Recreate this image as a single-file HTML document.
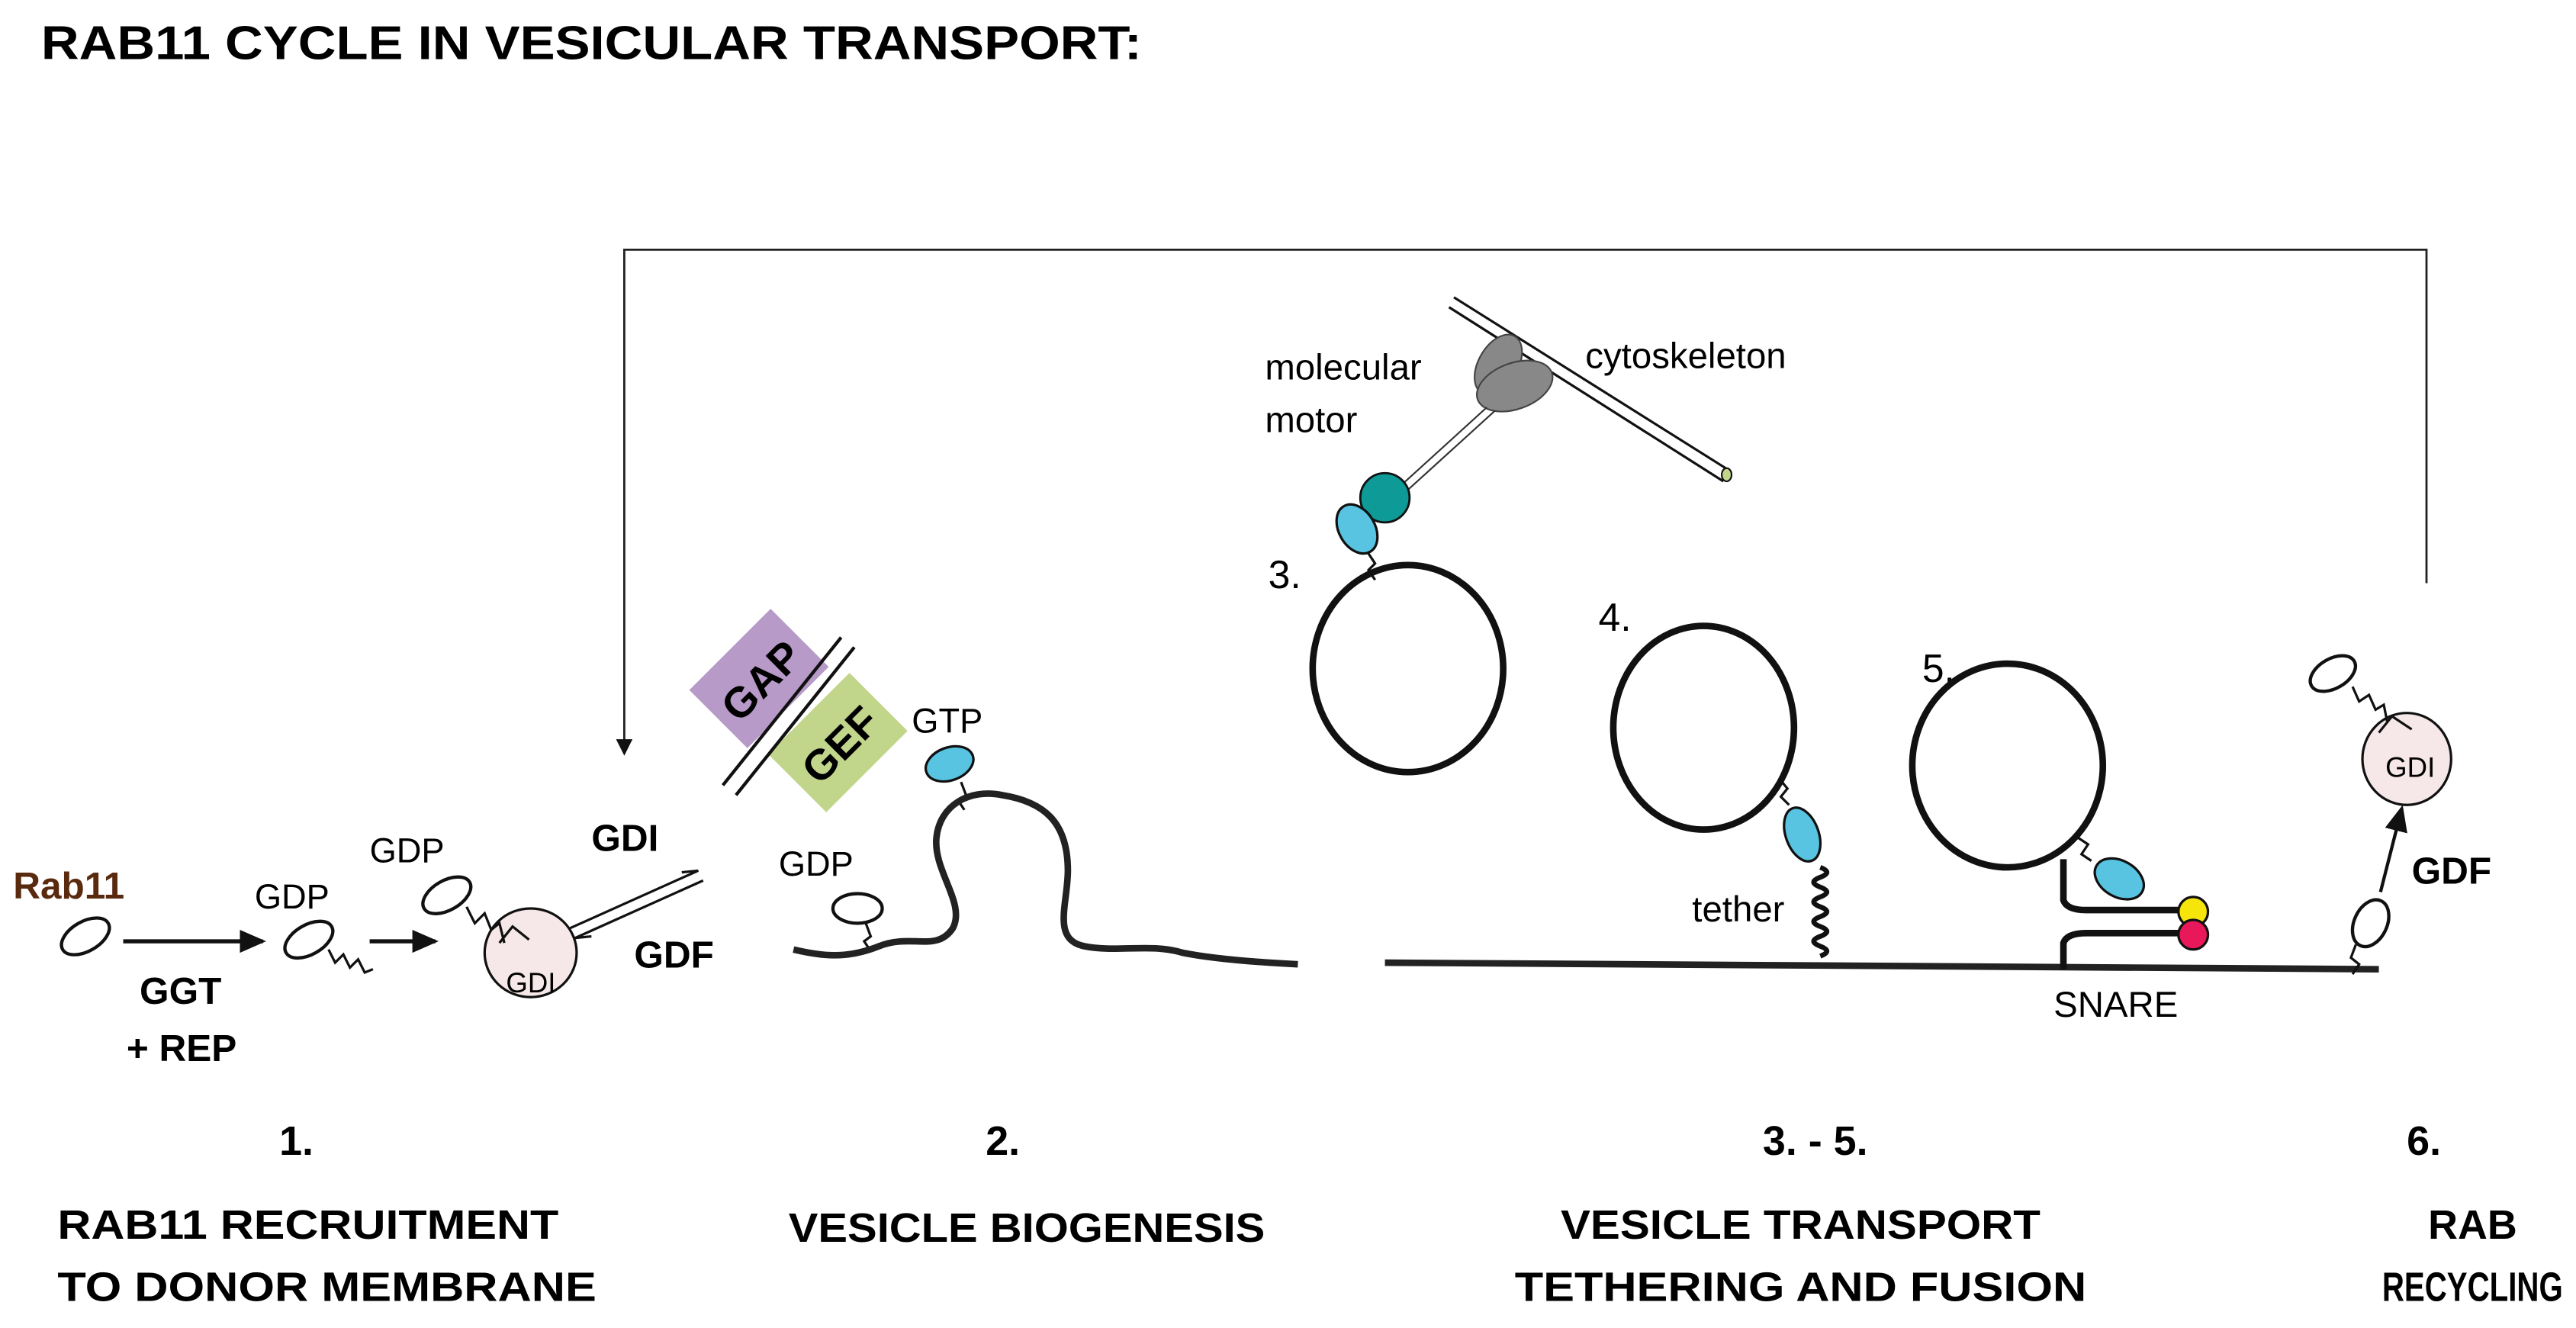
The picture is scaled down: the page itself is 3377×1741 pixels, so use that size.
<!DOCTYPE html>
<html><head><meta charset="utf-8"><style>html,body{margin:0;padding:0;background:#fff}svg{display:block}</style></head>
<body>
<svg width="3377" height="1741" viewBox="0 0 1568 808.4" preserveAspectRatio="none" xmlns="http://www.w3.org/2000/svg" font-family="Liberation Sans, sans-serif">
<defs>
<marker id="ah" markerWidth="10" markerHeight="10" refX="8" refY="5" orient="auto" markerUnits="userSpaceOnUse"><path d="M0,0 L10,5 L0,10 Z" fill="#111"/></marker>
<marker id="ah2" markerWidth="16" markerHeight="16" refX="14" refY="8" orient="auto" markerUnits="userSpaceOnUse"><path d="M0,1 L16,8 L0,15 Z" fill="#111"/></marker>
</defs>
<text x="25" y="36" font-size="29" font-weight="bold" textLength="670" lengthAdjust="spacingAndGlyphs">RAB11 CYCLE IN VESICULAR TRANSPORT:</text>
<!-- recycling bracket -->
<polyline points="1477,355 1477,152 380,152 380,458" fill="none" stroke="#222" stroke-width="1.3" marker-end="url(#ah)"/>
<!-- step 1 -->
<text x="8" y="547" font-size="23" font-weight="bold" fill="#5a2a0e">Rab11</text>
<ellipse cx="52" cy="570" rx="16" ry="9" transform="rotate(-30 52 570)" fill="#fff" stroke="#111" stroke-width="2"/>
<line x1="75" y1="573" x2="160" y2="573" stroke="#111" stroke-width="2.5" marker-end="url(#ah2)"/>
<text x="85" y="611" font-size="23" font-weight="bold">GGT</text>
<text x="77" y="646" font-size="23" font-weight="bold">+ REP</text>
<text x="155" y="553" font-size="21">GDP</text>
<ellipse cx="188" cy="572" rx="16" ry="9" transform="rotate(-30 188 572)" fill="#fff" stroke="#111" stroke-width="2"/>
<path d="M200,578 l4,8 l5,-5 l4,8 l5,-5 l4,8 l5,-2" fill="none" stroke="#111" stroke-width="1.5"/>
<line x1="225" y1="573" x2="265" y2="573" stroke="#111" stroke-width="2.5" marker-end="url(#ah2)"/>
<text x="225" y="525" font-size="21">GDP</text>
<ellipse cx="272" cy="545" rx="16" ry="9" transform="rotate(-30 272 545)" fill="#fff" stroke="#111" stroke-width="2"/>
<ellipse cx="323" cy="580" rx="28" ry="27" fill="#f6e8e8" stroke="#111" stroke-width="1.5"/>
<path d="M284,552 l5,10 l6,-6 l4,10 l5,-4 l3,12 M304,574 l8,-10 l10,8" fill="none" stroke="#111" stroke-width="1.5"/>
<text x="308" y="604" font-size="17">GDI</text>
<text x="360" y="518" font-size="23" font-weight="bold">GDI</text>
<path d="M347,565 L425,530 L415,531 M428,536 L350,571 L360,570" fill="none" stroke="#111" stroke-width="1.5"/>
<text x="386" y="589" font-size="23" font-weight="bold">GDF</text>
<!-- step 2 -->
<g transform="rotate(-45 462 413)"><rect x="427" y="388" width="70" height="50" fill="#b89ac9"/><text x="462" y="424" font-size="26" font-weight="bold" text-anchor="middle">GAP</text></g>
<g transform="rotate(-45 510 452)"><rect x="475" y="427" width="70" height="50" fill="#c2d68b"/><text x="510" y="463" font-size="26" font-weight="bold" text-anchor="middle">GEF</text></g>
<line x1="440" y1="478" x2="512" y2="388" stroke="#111" stroke-width="2"/>
<line x1="448" y1="484" x2="520" y2="394" stroke="#111" stroke-width="2"/>
<text x="555" y="446" font-size="21">GTP</text>
<ellipse cx="578" cy="465" rx="15" ry="10" transform="rotate(-20 578 465)" fill="#58c4e2" stroke="#111" stroke-width="1.5"/>
<path d="M585,476 l3,8 l-5,3 l4,6" fill="none" stroke="#111" stroke-width="1.5"/>
<text x="474" y="533" font-size="21">GDP</text>
<ellipse cx="522" cy="553" rx="15" ry="9" fill="#fff" stroke="#111" stroke-width="2"/>
<path d="M527,562 l3,8 l-4,3 l4,6" fill="none" stroke="#111" stroke-width="1.5"/>
<path d="M483,578 C500,582 515,584 535,576 C555,568 570,580 580,565 C588,550 568,530 570,510 C572,490 590,480 610,484 C635,488 650,500 650,530 C650,550 640,572 660,576 C680,580 700,574 720,580 C740,584 770,586 790,587" fill="none" stroke="#222" stroke-width="4"/>
<line x1="843" y1="586" x2="1448" y2="590" stroke="#222" stroke-width="4"/>
<!-- step 3 -->
<line x1="885" y1="181" x2="1052" y2="286" stroke="#111" stroke-width="1.5"/>
<line x1="882" y1="187" x2="1049" y2="293" stroke="#111" stroke-width="1.5"/>
<ellipse cx="1051" cy="289" rx="3" ry="4" fill="#c2d68b" stroke="#111"/>
<text x="965" y="224" font-size="22">cytoskeleton</text>
<text x="770" y="231" font-size="22">molecular</text>
<text x="770" y="263" font-size="22">motor</text>
<ellipse cx="912" cy="222" rx="12" ry="20" transform="rotate(30 912 222)" fill="#888" stroke="#444"/>
<ellipse cx="922" cy="235" rx="24" ry="14" transform="rotate(-20 922 235)" fill="#888" stroke="#444"/>
<line x1="905" y1="248" x2="850" y2="298" stroke="#333" stroke-width="1"/>
<line x1="910" y1="250" x2="855" y2="300" stroke="#333" stroke-width="1"/>
<circle cx="843" cy="303" r="15" fill="#0e9a96" stroke="#111" stroke-width="1.3"/>
<ellipse cx="826" cy="322" rx="11" ry="16" transform="rotate(-30 826 322)" fill="#58c4e2" stroke="#111" stroke-width="1.5"/>
<path d="M833,337 l4,6 l-4,4 l4,6" fill="none" stroke="#111" stroke-width="1.5"/>
<text x="772" y="358" font-size="24">3.</text>
<ellipse cx="857" cy="407" rx="58" ry="63" fill="none" stroke="#111" stroke-width="4"/>
<!-- step 4 -->
<text x="973" y="384" font-size="24">4.</text>
<ellipse cx="1037" cy="443" rx="55" ry="62" fill="none" stroke="#111" stroke-width="4"/>
<path d="M1083,474 l5,6 l-4,5 l5,5" fill="none" stroke="#111" stroke-width="1.5"/>
<ellipse cx="1097" cy="508" rx="10" ry="17" transform="rotate(-20 1097 508)" fill="#58c4e2" stroke="#111" stroke-width="1.5"/>
<path d="M1108,528 q8,3 0,6 q-8,3 0,6 q8,3 0,6 q-8,3 0,6 q8,3 0,6 q-8,3 0,6 q8,3 0,6 q-8,3 0,6 q8,3 0,6" fill="none" stroke="#111" stroke-width="3"/>
<text x="1030" y="561" font-size="22">tether</text>
<!-- step 5 -->
<text x="1170" y="415" font-size="24">5.</text>
<ellipse cx="1222" cy="466" rx="58" ry="62" fill="none" stroke="#111" stroke-width="4"/>
<path d="M1265,510 l6,4 l-4,6 l6,4" fill="none" stroke="#111" stroke-width="1.5"/>
<ellipse cx="1290" cy="535" rx="16" ry="11" transform="rotate(30 1290 535)" fill="#58c4e2" stroke="#111" stroke-width="1.5"/>
<path d="M1256,523 L1256,548 Q1258,554 1270,554 L1330,554" fill="none" stroke="#111" stroke-width="4"/>
<path d="M1256,590 L1256,574 Q1258,568 1270,568 L1330,568" fill="none" stroke="#111" stroke-width="4"/>
<circle cx="1335" cy="555" r="9" fill="#f5e50a" stroke="#111" stroke-width="1.5"/>
<circle cx="1335" cy="569" r="9" fill="#e8185a" stroke="#111" stroke-width="1.5"/>
<text x="1250" y="619" font-size="22">SNARE</text>
<!-- step 6 -->
<ellipse cx="1465" cy="462" rx="27" ry="28" fill="#f6e8e8" stroke="#111" stroke-width="1.5"/>
<ellipse cx="1420" cy="410" rx="15" ry="9" transform="rotate(-30 1420 410)" fill="#fff" stroke="#111" stroke-width="2"/>
<path d="M1432,418 l4,9 l6,-4 l4,9 l5,-3 l2,10 M1448,446 l8,-10 l12,8" fill="none" stroke="#111" stroke-width="1.5"/>
<text x="1452" y="473" font-size="17">GDI</text>
<line x1="1449" y1="543" x2="1462" y2="492" stroke="#111" stroke-width="2" marker-end="url(#ah2)"/>
<text x="1468" y="538" font-size="23" font-weight="bold">GDF</text>
<ellipse cx="1443" cy="562" rx="10" ry="15" transform="rotate(25 1443 562)" fill="#fff" stroke="#111" stroke-width="2"/>
<path d="M1434,575 l-3,8 l5,4 l-4,6" fill="none" stroke="#111" stroke-width="1.5"/>
<!-- bottom labels -->
<g font-size="25" font-weight="bold">
<text x="170" y="703">1.</text>
<text x="35" y="754" textLength="305" lengthAdjust="spacingAndGlyphs">RAB11 RECRUITMENT</text>
<text x="35" y="792" textLength="328" lengthAdjust="spacingAndGlyphs">TO DONOR MEMBRANE</text>
<text x="600" y="703">2.</text>
<text x="480" y="756" textLength="290" lengthAdjust="spacingAndGlyphs">VESICLE BIOGENESIS</text>
<text x="1073" y="703">3. - 5.</text>
<text x="950" y="754" textLength="292" lengthAdjust="spacingAndGlyphs">VESICLE TRANSPORT</text>
<text x="922" y="792" textLength="348" lengthAdjust="spacingAndGlyphs">TETHERING AND FUSION</text>
<text x="1465" y="703">6.</text>
<text x="1478" y="754">RAB</text>
<text x="1450" y="792" textLength="110" lengthAdjust="spacingAndGlyphs">RECYCLING</text>
</g>
</svg>
</body></html>
